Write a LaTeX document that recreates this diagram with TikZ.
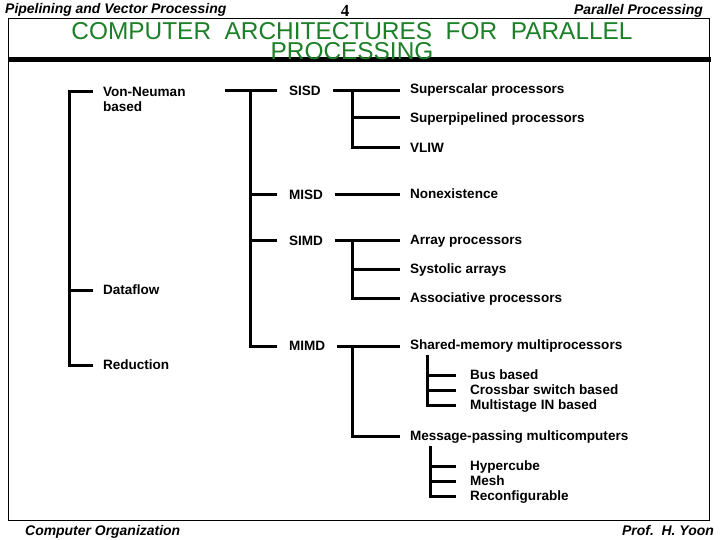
\documentclass[tikz,border=0pt]{standalone}
\usepackage{fontspec}
\setmainfont{Liberation Sans}
\newfontfamily\serifnum{Liberation Serif}
\definecolor{titlegreen}{RGB}{28,128,40}

\begin{document}
\begin{tikzpicture}[x=1bp, y=-1bp,
    branch/.style={line width=3bp},
    lbl/.style={anchor=west, inner sep=0pt, outer xsep=10bp, text height=9.5bp, text depth=0pt,
        font=\bfseries\fontsize{13.6}{15}\selectfont},
    midlbl/.style={lbl, outer xsep=12bp},
    sublbl/.style={lbl, outer xsep=14bp},
    hdr/.style={inner sep=0pt, font=\bfseries\itshape\fontsize{14}{16}\selectfont}]
    \useasboundingbox (0,0) rectangle (720,540);

    % frame and title
    \draw[line width=0.8bp] (8,18) rectangle (709,520);
    \draw[line width=5bp] (8,60) -- (711,60);
    \node[hdr, anchor=base west] (chapter) at (5,14) {Pipelining and Vector Processing};
    \node[hdr, anchor=base east] (section) at (703,15) {Parallel Processing};
    \node[inner sep=0pt, anchor=base, font=\serifnum\bfseries\fontsize{17}{17}\selectfont] (page) at (345,17) {4};
    \node[hdr, anchor=base west] (course) at (25,535) {Computer Organization};
    \node[hdr, anchor=base east] (author) at (714,535) {Prof.\ \ H. Yoon};
    \node[inner sep=0pt, anchor=north, align=center, text=titlegreen,
        font=\fontsize{24.5}{19.5}\selectfont] (title) at (352,22.5)
        {COMPUTER\ \ ARCHITECTURES\ \ FOR\ \ PARALLEL\\PROCESSING};

    % first level
    \node[lbl] (vn) at (93,92) {Von-Neuman};
    \node[lbl] (vnb) at (93,107) {based};
    \node[lbl] (df) at (93,290) {Dataflow};
    \node[lbl] (rd) at (93,365) {Reduction};
    \coordinate (t1) at (69,0);
    \draw[branch] (vn.west) -- (vn.west -| t1) -- (rd.west -| t1) -- (rd.west);
    \draw[branch] (df.west -| t1) -- (df.west);

    % Flynn classes
    \coordinate (cls) at (225,91);
    \coordinate (t2) at (250,0);
    \node[midlbl] (sisd) at (277,91) {SISD};
    \node[midlbl] (misd) at (277,195) {MISD};
    \node[midlbl] (simd) at (277,241) {SIMD};
    \node[midlbl] (mimd) at (277,346) {MIMD};
    \draw[branch] (cls) -- (sisd.west);
    \draw[branch] (cls -| t2) |- (mimd.west);
    \foreach \n in {misd,simd} \draw[branch] (\n.west -| t2) -- (\n.west);

    % machines
    \coordinate (t3) at (352,0);
    \node[lbl] (ss) at (400,89) {Superscalar processors};
    \node[lbl] (sp) at (400,118) {Superpipelined processors};
    \node[lbl] (vliw) at (400,148) {VLIW};
    \node[lbl] (nonex) at (400,194) {Nonexistence};
    \node[lbl] (arr) at (400,240) {Array processors};
    \node[lbl] (sys) at (400,269) {Systolic arrays};
    \node[lbl] (assoc) at (400,298) {Associative processors};
    \node[lbl] (shm) at (400,345) {Shared-memory multiprocessors};
    \node[lbl] (msg) at (400,436) {Message-passing multicomputers};
    \draw[branch] (sisd.east) -- (sisd.east -| ss.west);
    \draw[branch] (sisd.east -| t3) |- (vliw.west);
    \draw[branch] (sp.west -| t3) -- (sp.west);
    \draw[branch] (misd.east) -- (misd.east -| nonex.west);
    \draw[branch] (simd.east) -- (simd.east -| arr.west);
    \draw[branch] (simd.east -| t3) |- (assoc.west);
    \draw[branch] (sys.west -| t3) -- (sys.west);
    \draw[branch] (mimd.east) -- (mimd.east -| shm.west);
    \draw[branch] (mimd.east -| t3) |- (msg.west);

    % interconnects
    \node[sublbl] (bus) at (456,375) {Bus based};
    \node[sublbl] (xbar) at (456,390) {Crossbar switch based};
    \node[sublbl] (mult) at (456,405) {Multistage IN based};
    \node[sublbl] (hyp) at (456,466) {Hypercube};
    \node[sublbl] (mesh) at (456,481) {Mesh};
    \node[sublbl] (rcf) at (456,496) {Reconfigurable};
    \coordinate (shm-drop) at (427,355);
    \coordinate (msg-drop) at (430,446);
    \draw[branch] (shm-drop) |- (mult.west);
    \foreach \n in {bus,xbar} \draw[branch] (\n.west -| shm-drop) -- (\n.west);
    \draw[branch] (msg-drop) |- (rcf.west);
    \foreach \n in {hyp,mesh} \draw[branch] (\n.west -| msg-drop) -- (\n.west);
\end{tikzpicture}
\end{document}
